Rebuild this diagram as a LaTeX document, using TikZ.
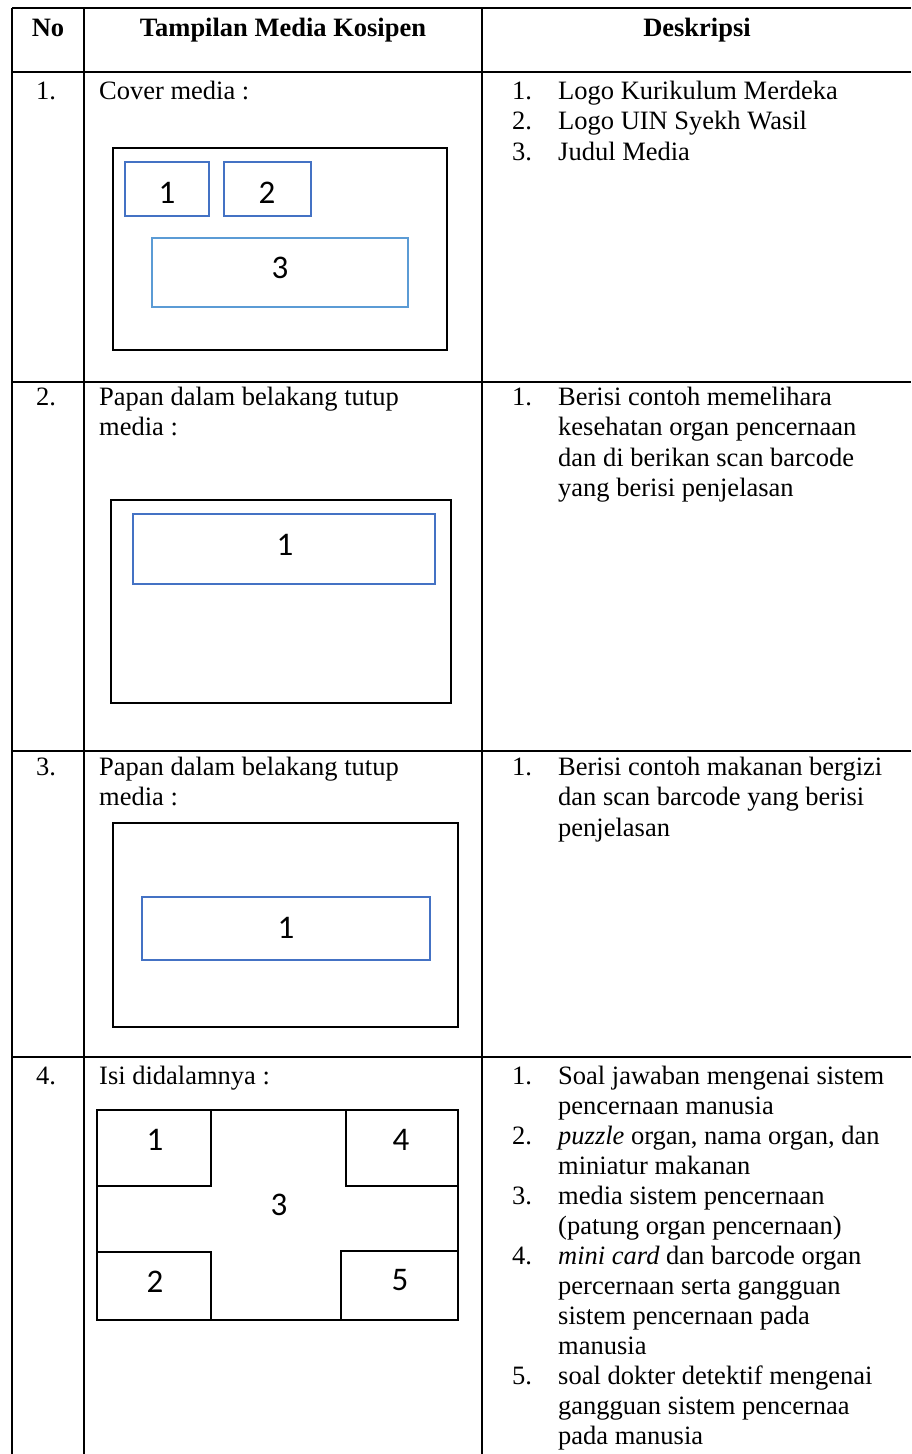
\documentclass[tikz,border=0pt]{standalone}
\usepackage{fontspec}
\setmainfont{Liberation Serif}
\newfontfamily\calibfont{Carlito}
\definecolor{boxblue}{HTML}{4472C4}
\definecolor{lightblue}{HTML}{5B9BD5}
\begin{document}
\begin{tikzpicture}[x=1pt,y=-1pt,
  tline/.style={line width=2pt, black},
  outerbox/.style={draw=black, line width=2.5pt},
  bluebox/.style={draw=boxblue, line width=2.2pt},
  lbluebox/.style={draw=lightblue, line width=2.2pt},
  innerbox/.style={draw=black, line width=2.2pt},
  numtxt/.style={font=\calibfont\fontsize{33}{34}\selectfont, inner sep=0pt},
  txt/.style={anchor=base west, inner sep=0pt, font=\fontsize{26.5}{30}\selectfont},
  hdr/.style={anchor=base, inner sep=0pt, font=\bfseries\fontsize{26.5}{30}\selectfont}]
\useasboundingbox (0,0) rectangle (911,1454);
\fill[white] (0,0) rectangle (911,1454);
% table grid
\foreach \yy in {8,72,382,751,1057} \draw[tline] (12,\yy) -- (911,\yy);
\foreach \xx in {12,84,482} \draw[tline] (\xx,8) -- (\xx,1454);
% header
\node[hdr] (hno) at (48,36) {No};
\node[hdr] (htm) at (283,36) {Tampilan Media Kosipen};
\node[hdr] (hde) at (697,36) {Deskripsi};
% row numbers
\node[txt] (r1) at (36,99) {1.};
\node[txt] (r2) at (36,405) {2.};
\node[txt] (r3) at (36,775) {3.};
\node[txt] (r4) at (36,1084) {4.};
% middle column texts
\node[txt] (m1) at (99,99) {Cover media :};
\node[txt] (m2a) at (99,405) {Papan dalam belakang tutup};
\node[txt] (m2b) at (99,435.5) {media :};
\node[txt] (m3a) at (99,775) {Papan dalam belakang tutup};
\node[txt] (m3b) at (99,805.5) {media :};
\node[txt] (m4) at (99,1084) {Isi didalamnya :};
% row 1 description
\node[txt] (d1n1) at (512,99) {1.};
\node[txt] (d1t1) at (558,99) {Logo Kurikulum Merdeka};
\node[txt] (d1n2) at (512,129.5) {2.};
\node[txt] (d1t2) at (558,129.5) {Logo UIN Syekh Wasil};
\node[txt] (d1n3) at (512,160) {3.};
\node[txt] (d1t3) at (558,160) {Judul Media};
% row 2 description
\node[txt] (d2n1) at (512,405) {1.};
\node[txt] (d2t1) at (558,405) {Berisi contoh memelihara};
\node[txt] (d2t2) at (558,435.5) {kesehatan organ pencernaan};
\node[txt] (d2t3) at (558,466) {dan di berikan scan barcode};
\node[txt] (d2t4) at (558,496.5) {yang berisi penjelasan};
% row 3 description
\node[txt] (d3n1) at (512,775) {1.};
\node[txt] (d3t1) at (558,775) {Berisi contoh makanan bergizi};
\node[txt] (d3t2) at (558,805.5) {dan scan barcode yang berisi};
\node[txt] (d3t3) at (558,836) {penjelasan};
% row 4 description
\node[txt] (d4n1) at (512,1084) {1.};
\node[txt] (d4t1) at (558,1084) {Soal jawaban mengenai sistem};
\node[txt] (d4t2) at (558,1114) {pencernaan manusia};
\node[txt] (d4n2) at (512,1144) {2.};
\node[txt] (d4t3) at (558,1144) {\textit{puzzle} organ, nama organ, dan};
\node[txt] (d4t4) at (558,1174) {miniatur makanan};
\node[txt] (d4n3) at (512,1204) {3.};
\node[txt] (d4t5) at (558,1204) {media sistem pencernaan};
\node[txt] (d4t6) at (558,1234) {(patung organ pencernaan)};
\node[txt] (d4n4) at (512,1264) {4.};
\node[txt] (d4t7) at (558,1264) {\textit{mini card} dan barcode organ};
\node[txt] (d4t8) at (558,1294) {percernaan serta gangguan};
\node[txt] (d4t9) at (558,1324) {sistem pencernaan pada};
\node[txt] (d4t10) at (558,1354) {manusia};
\node[txt] (d4n5) at (512,1384) {5.};
\node[txt] (d4t11) at (558,1384) {soal dokter detektif mengenai};
\node[txt] (d4t12) at (558,1414) {gangguan sistem pencernaa};
\node[txt] (d4t13) at (558,1444) {pada manusia};
% row 1 diagram
\draw[outerbox] (113,148) rectangle (447,350);
\draw[bluebox] (125,162) rectangle (209,216);
\draw[bluebox] (224,162) rectangle (311,216);
\draw[lbluebox] (152,238) rectangle (408,307);
\node[numtxt] (c1) at (167,193) {1};
\node[numtxt] (c2) at (267,193) {2};
\node[numtxt] (c3) at (280,268) {3};
% row 2 diagram
\draw[outerbox] (111,500) rectangle (451,703);
\draw[bluebox] (133,514) rectangle (435,584);
\node[numtxt] (p1) at (285,545) {1};
% row 3 diagram
\draw[outerbox] (113,823) rectangle (458,1027);
\draw[bluebox] (142,897) rectangle (430,960);
\node[numtxt] (q1) at (286,928) {1};
% row 4 diagram
\draw[outerbox] (97,1110) rectangle (458,1320);
\draw[innerbox] (97,1110) rectangle (211,1186);
\draw[innerbox] (346,1110) rectangle (458,1186);
\draw[innerbox] (97,1252) rectangle (211,1320);
\draw[innerbox] (341,1251) rectangle (458,1320);
\node[numtxt] (i1) at (155,1140) {1};
\node[numtxt] (i4) at (401,1140) {4};
\node[numtxt] (i3) at (279,1205) {3};
\node[numtxt] (i2) at (155,1282) {2};
\node[numtxt] (i5) at (400,1280) {5};
\end{tikzpicture}
\end{document}
